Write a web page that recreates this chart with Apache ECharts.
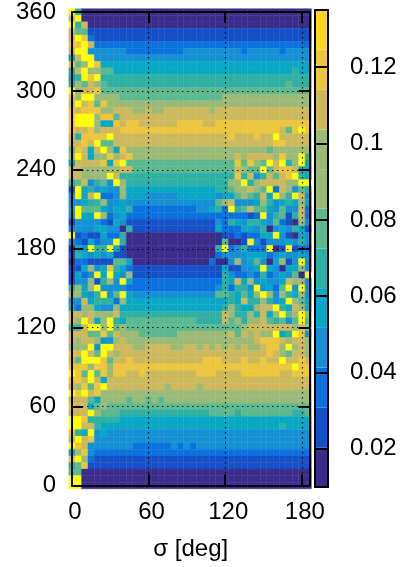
<!DOCTYPE html>
<html>
<head>
<meta charset="utf-8">
<style>
html,body{margin:0;padding:0;background:#fff;}
#main{width:402px;height:567px;}
</style>
<script src="https://cdn.jsdelivr.net/npm/echarts@6/dist/echarts.min.js"></script>
</head>
<body>
<div id="main"></div>
<script>
var sigmaCols = [0,5,10,15,20,25,30,35,40,45,50,55,60,65,70,75,80,85,90,95,100,105,110,115,120,125,130,135,140,145,150,155,160,165,170,175,180,185];
var phiRows = [360,355,350,345,340,335,330,325,320,315,310,305,300,295,290,285,280,275,270,265,260,255,250,245,240,235,230,225,220,215,210,205,200,195,190,185,180,175,170,165,160,155,150,145,140,135,130,125,120,115,110,105,100,95,90,85,80,75,70,65,60,55,50,45,40,35,30,25,20,15,10,5,0];
// colorbar bands, bottom to top
var bandEdges = [0.01,0.0204,0.0308,0.0413,0.0517,0.0621,0.0725,0.0829,0.0933,0.1037,0.1142,0.1246,0.135];
var bandColors = ['#3b2c8b','#1450c8','#0a72de','#1590d5','#08a8c5','#2eb0a4','#5bb88f','#9bba76','#9bba76','#cdb95c','#ecc63c','#fbd51f'];
var overColor = '#ffff00';
// value read for one cell, by the letter used in cellBands (y = above the colorbar)
var bandValues = {'0':0.015,'1':0.025,'2':0.036,'3':0.046,'4':0.057,'5':0.067,'6':0.077,'7':0.088,'8':0.098,'9':0.109,'a':0.119,'b':0.13,'y':0.14};
// one string per phi row, one letter per sigma column
var cellBands = [
'y500000000 0000000000 0000000000 00000000',
'9y00000000 0000000000 0000000000 00000000',
'y590000000 0000000000 0000000000 00000000',
'9661111111 1111111111 1111111111 11111111',
'9ya2111111 1111111111 1111111111 11111111',
'aay9222222 2222222222 2222222222 22222222',
'9yy3333332 2222222233 3333333233 33323333',
'49yy333333 3333333333 3333333333 33333333',
'a67ya44444 4444444444 4444444444 44444444',
'59y7766444 4444444444 4444444444 44444544',
'45yay55555 5555555555 5555555555 55555555',
'5769765555 5555555555 5555555555 55556555',
'y799a66666 6666666666 6666666666 66666666',
'a7yy777766 6666666666 6666777777 77777777',
'9y9a6a7777 7777777777 7777777777 77777777',
'a9aaa77999 7797799999 9979999999 99999999',
'ayyy7aa699 9999999999 9999999999 99999999',
'ayyy744a9a a999999aaa a99aaaaaaa aaaaaaaa',
'a99a7999aa aaaaaaaaaa aaaaaaaaaa aaa96aya',
'95aaaay999 9999999999 99999a999a 99y99999',
'99a9y66999 9999999999 9999999999 99aa9999',
'6a949y74a7 7777777777 7777777777 76777777',
'7y9477a79a 7777777777 7777779799 997a77y5',
'49999a4ay6 6666666666 666666a6a7 6y9y57y4',
'9977777799 6666666666 6666669766 y69aa944',
'997777y955 5555555555 555555a593 5969ay54',
'5693563y75 5555555555 5555577y57 999977yy',
'1y45343374 4444444444 4445567797 6y297365',
'3y49y22374 4433333444 4443446765 94y75y93',
'3345573343 3333333333 3336793334 75345474',
'4y66643445 2222222222 33452y5696 64363392',
'3y44y72342 2222222222 2222222212 y3561592',
'1333321431 1111111111 1113254355 43621073',
'3333443305 1111111111 1114222443 50343541',
'y121142250 0000000000 0000112122 44y31043',
'3214233y50 0000000000 00006001y3 13334353',
'043y55y410 0000000000 0005y23522 2y01y122',
'1543434110 0000000000 0002333344 42343343',
'0221111664 0000000000 0020037346 304713y3',
'114734a542 1111111111 1111411334 y4304473',
'1423y4y437 1111111111 1111532232 5234360y',
'13371573y4 2222222222 2222549473 43349773',
'5747y33332 2222222222 222352553y 3426y3y3',
'77435y36y4 3333333333 3336654647 y7375473',
'3394555274 4444444444 4444454955 7534y764',
'4277433744 4444444444 4444575447 99y54974',
'9979777955 5555555555 5555975575 947y67y7',
'97y947y546 6666666666 5555967577 965636y6',
'559yy7y676 6666666666 6666666799 99999797',
'99966a6977 7666666777 7777796979 77y45ya3',
'9799733797 7777777777 7777777779 aaa97997',
'777y3yy999 7799997799 7979797977 9aa7y797',
'a9y96y9799 9999999999 9999999999 9a976997',
'96yyya699a 9999999999 9aaa999a99 a99y99a9',
'aaa7aa7aaa aaaaaaaaaa aaaaaaaaaa aaaaayaa',
'ya6y6a7aa9 9a99999999 aaa9999aaa aaa99aaa',
'aa9y949999 9999999999 9999999999 99999999',
'97a6ay9999 9999979999 7999999999 99999999',
'yay9a77777 7777777777 7777777777 77777777',
'9996477776 7767677777 7777777777 77777777',
'a994676666 6666666666 6666666666 66666666',
'999y766655 5555555555 5566665666 66666556',
'yya5555544 4444444444 4444444444 44444444',
'yy99544444 4444444444 4444444444 44454444',
'a54y343333 3333333333 3333333333 33333333',
'9y9a333333 3333333333 3333333333 33333333',
'ya93333333 2222223232 3333333333 33333333',
'47a3222222 2222222222 2222222222 22222222',
'ay72111111 1111111111 1111111111 11111111',
'56a1111111 1111111111 1111111111 11111111',
'6600000000 0000000000 0000000000 00000000',
'yy00000000 0000000000 0000000000 00000000',
'yy00000000 0000000000 0000000000 00000000'
];
var sigmaTicks = [0,60,120,180];
var phiTicks = [0,60,120,180,240,300,360];
var barTicks = [0.02,0.04,0.06,0.08,0.1,0.12];
var sigmaStep = 5, phiStep = 5;

var chart = echarts.init(document.getElementById('main'));
var fontName = '"Liberation Sans", Arial, sans-serif';

var cells = [];
for (var r = 0; r < phiRows.length; r++) {
	var letters = cellBands[r].replace(/ /g, '');
	for (var c = 0; c < sigmaCols.length; c++) {
		cells.push([sigmaCols[c], phiRows[r], bandValues[letters.charAt(c)]]);
	}
}
var bandData = [];
var pieces = [{gt: bandEdges[bandEdges.length - 1], color: overColor}];
for (var b = 0; b < bandColors.length; b++) {
	bandData.push([bandEdges[b], bandEdges[b + 1], b]);
	pieces.push({gte: bandEdges[b], lt: bandEdges[b + 1], color: bandColors[b]});
}

var blackLine = {show: true, onZero: false, lineStyle: {color: '#000', width: 2}};
var insideTick = function(vals, len) {
	return {show: true, inside: true, length: len, customValues: vals, lineStyle: {color: '#000', width: 2}};
};
var gridDots = {show: true, lineStyle: {color: 'rgba(0,0,0,0.8)', width: 1.2, type: [1.5, 3.5]}};
var labelStyle = {fontSize: 24, color: '#000', fontFamily: fontName};

chart.setOption({
	animation: false,
	backgroundColor: '#fff',
	grid: [
		{left: 72, top: 10, width: 237.5, height: 475.5},
		{left: 315, top: 10, width: 13, height: 477}
	],
	visualMap: {show: false, seriesIndex: 0, dimension: 2, type: 'piecewise', pieces: pieces},
	xAxis: [
		{
			type: 'value', gridIndex: 0, position: 'bottom', min: 0, max: 186, z: 5,
			axisLine: blackLine, axisTick: insideTick(sigmaTicks, 11), splitLine: gridDots,
			axisLabel: Object.assign({customValues: sigmaTicks, margin: 15, padding: [0, 0, 0, 6]}, labelStyle),
			name: 'σ [deg]', nameLocation: 'middle', nameGap: 52,
			nameTextStyle: labelStyle
		},
		{
			type: 'value', gridIndex: 0, position: 'top', min: 0, max: 186, z: 5,
			axisLine: blackLine, axisTick: insideTick(sigmaTicks, 11),
			splitLine: {show: false}, axisLabel: {show: false}
		},
		{
			type: 'value', gridIndex: 1, position: 'bottom', min: 0, max: 1, z: 5,
			axisLine: blackLine, axisTick: {show: false}, splitLine: {show: false}, axisLabel: {show: false}
		},
		{
			type: 'value', gridIndex: 1, position: 'top', min: 0, max: 1, z: 5,
			axisLine: blackLine, axisTick: {show: false}, splitLine: {show: false}, axisLabel: {show: false}
		}
	],
	yAxis: [
		{
			type: 'value', gridIndex: 0, position: 'left', min: 0, max: 360, z: 5,
			axisLine: blackLine, axisTick: insideTick(phiTicks, 11), splitLine: gridDots,
			axisLabel: Object.assign({customValues: phiTicks, margin: 16}, labelStyle)
		},
		{
			type: 'value', gridIndex: 0, position: 'right', min: 0, max: 360, z: 5,
			axisLine: blackLine, axisTick: insideTick(phiTicks, 11),
			splitLine: {show: false}, axisLabel: {show: false}
		},
		{
			type: 'value', gridIndex: 1, position: 'left', min: 0.01, max: 0.135, z: 5,
			axisLine: blackLine, axisTick: {show: false}, splitLine: {show: false}, axisLabel: {show: false}
		},
		{
			type: 'value', gridIndex: 1, position: 'right', min: 0.01, max: 0.135, z: 5,
			axisLine: blackLine, axisTick: insideTick(barTicks, 13), splitLine: {show: false},
			axisLabel: Object.assign({
				customValues: barTicks, margin: 22,
				formatter: function(v) { return String(Number(v.toFixed(2))); }
			}, labelStyle)
		}
	],
	series: [
		{
			type: 'custom',
			coordinateSystem: 'cartesian2d',
			xAxisIndex: 0,
			yAxisIndex: 0,
			clip: false,
			data: cells,
			encode: {x: 0, y: 1},
			renderItem: function(params, api) {
				var p0 = api.coord([api.value(0) - sigmaStep / 2, api.value(1) + phiStep / 2]);
				var p1 = api.coord([api.value(0) + sigmaStep / 2, api.value(1) - phiStep / 2]);
				var color = api.visual('color');
				return {
					type: 'rect',
					shape: {x: p0[0], y: p0[1], width: p1[0] - p0[0], height: p1[1] - p0[1]},
					// thin stroke so the cell seams stay faint
					style: {fill: color, stroke: color, lineWidth: 0.4}
				};
			}
		},
		{
			type: 'custom',
			coordinateSystem: 'cartesian2d',
			xAxisIndex: 2,
			yAxisIndex: 2,
			clip: false,
			data: bandData,
			encode: {y: [0, 1]},
			renderItem: function(params, api) {
				var p0 = api.coord([0, api.value(1)]);
				var p1 = api.coord([1, api.value(0)]);
				return {
					type: 'rect',
					shape: {x: p0[0], y: p0[1], width: p1[0] - p0[0], height: p1[1] - p0[1]},
					style: {fill: bandColors[api.value(2)]}
				};
			}
		}
	]
});
</script>
</body>
</html>
